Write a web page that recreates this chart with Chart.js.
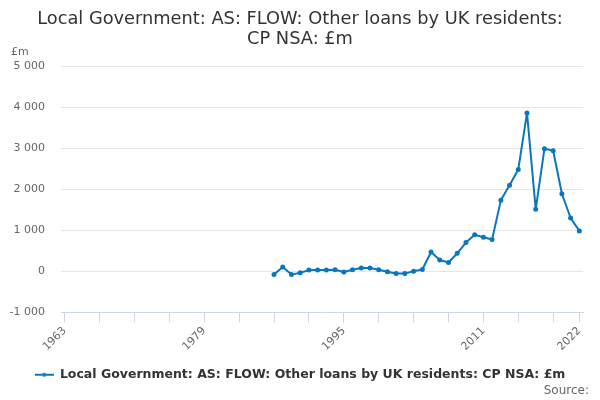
<!DOCTYPE html>
<html>
<head>
<meta charset="utf-8">
<script src="https://cdn.jsdelivr.net/npm/chart.js@4"></script>
<style>
  html, body { margin: 0; padding: 0; background: #fff; }
  #wrap { width: 600px; height: 400px; position: relative; }
</style>
</head>
<body>
<div id="wrap"><canvas id="loansChart"></canvas></div>
<script>
// years with a value (£m)
const years = [
    1987, 1988, 1989, 1990, 1991, 1992, 1993, 1994, 1995, 1996,
    1997, 1998, 1999, 2000, 2001, 2002, 2003, 2004, 2005, 2006,
    2007, 2008, 2009, 2010, 2011, 2012, 2013, 2014, 2015, 2016,
    2017, 2018, 2019, 2020, 2021, 2022
];
const loanValues = [
    -80, 105, -80, -35, 30, 30, 30, 40, -15, 40,
    80, 80, 40, -10, -55, -50, 0, 45, 470, 275,
    215, 440, 700, 890, 830, 775, 1730, 2100, 2480, 3860,
    1510, 2990, 2940, 1890, 1300, 985
];

// x axis: tick marks every 4 years from 1963, labels on a few of them
const tickYears = [1963, 1967, 1971, 1975, 1979, 1983, 1987, 1991, 1995, 1999,
                   2003, 2007, 2011, 2015, 2019, 2022];
const labelYears = [1963, 1979, 1995, 2011, 2022];
const yTicks = [-1000, 0, 1000, 2000, 3000, 4000, 5000];

const seriesName = 'Local Government: AS: FLOW: Other loans by UK residents: CP NSA: £m';
const lineColor = '#0a77bd';

const points = years.map((yr, i) => ({ x: yr, y: loanValues[i] }));

// little line-with-marker symbol for the legend
const legendSymbol = document.createElement('canvas');
legendSymbol.width = 19;
legendSymbol.height = 6;
(function() {
    const c = legendSymbol.getContext('2d');
    c.strokeStyle = lineColor;
    c.fillStyle = lineColor;
    c.lineWidth = 2;
    c.beginPath();
    c.moveTo(0, 3);
    c.lineTo(19, 3);
    c.stroke();
    c.beginPath();
    c.arc(9.5, 3, 2, 0, Math.PI * 2);
    c.fill();
})();

// draws the "£m" unit label and the "Source:" note
const extraText = {
    id: 'extraText',
    afterDraw(chart) {
        const ctx = chart.ctx;
        ctx.save();
        ctx.font = '11px "DejaVu Sans"';
        ctx.fillStyle = '#666';
        ctx.textBaseline = 'middle';
        ctx.textAlign = 'left';
        ctx.fillText('£m', 11, 52);
        ctx.font = '12px "DejaVu Sans"';
        ctx.textAlign = 'right';
        ctx.fillText('Source:', 589, 391);
        ctx.restore();
    }
};

const ctx = document.getElementById('loansChart').getContext('2d');
new Chart(ctx, {
    type: 'line',
    data: {
        datasets: [{
            label: seriesName,
            data: points,
            borderColor: lineColor,
            backgroundColor: lineColor,
            borderWidth: 2,
            borderJoinStyle: 'round',
            pointRadius: 1.5,
            pointHoverRadius: 2,
            tension: 0
        }]
    },
    options: {
        responsive: true,
        maintainAspectRatio: false,
        animation: false,
        layout: {
            padding: { left: 4, right: 4, top: 0, bottom: 9 }
        },
        plugins: {
            title: {
                display: true,
                text: ['Local Government: AS: FLOW: Other loans by UK residents:', 'CP NSA: £m'],
                color: '#333',
                font: { family: 'DejaVu Sans', size: 17.8, weight: 'normal', lineHeight: 1.1 },
                padding: { top: 10, bottom: 17 }
            },
            legend: {
                position: 'bottom',
                labels: {
                    color: '#333',
                    font: { family: 'DejaVu Sans', size: 12.5, weight: 'bold' },
                    usePointStyle: true,
                    pointStyle: legendSymbol,
                    pointStyleWidth: 19,
                    padding: 13
                }
            },
            tooltip: { enabled: false }
        },
        scales: {
            x: {
                type: 'linear',
                min: 1962.58,
                max: 2022.42,
                border: { display: true, color: '#ccd6eb', width: 1 },
                grid: {
                    drawOnChartArea: false,
                    drawTicks: true,
                    tickLength: 10,
                    color: '#ccd6eb'
                },
                afterBuildTicks: s => { s.ticks = tickYears.map(v => ({ value: v })); },
                ticks: {
                    autoSkip: false,
                    maxRotation: 45,
                    minRotation: 45,
                    color: '#666',
                    font: { family: 'DejaVu Sans', size: 11 },
                    padding: 2,
                    callback: v => labelYears.includes(v) ? String(v) : ''
                }
            },
            y: {
                min: -1000,
                max: 5000,
                border: { display: false },
                grid: { color: '#e6e6e6', drawTicks: false },
                afterBuildTicks: s => { s.ticks = yTicks.map(v => ({ value: v })); },
                afterFit: s => { s.width = 57; },
                ticks: {
                    color: '#666',
                    font: { family: 'DejaVu Sans', size: 11 },
                    padding: 16,
                    callback: v => v.toString().replace(/\B(?=(\d{3})+(?!\d))/g, ' ')
                }
            },
            // empty right-hand axis that only reserves the right margin
            yRight: {
                position: 'right',
                display: true,
                border: { display: false },
                grid: { display: false },
                ticks: { display: false },
                afterFit: s => { s.width = 13; }
            }
        }
    },
    plugins: [extraText]
});
</script>
</body>
</html>
